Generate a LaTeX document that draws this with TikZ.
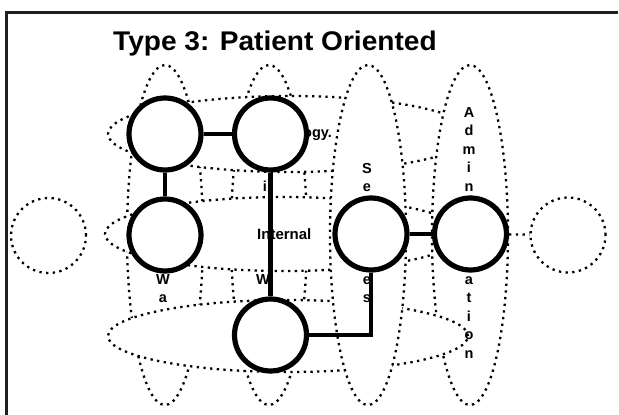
\documentclass[tikz,border=0pt]{standalone}
\usepackage{fontspec}
\setmainfont{Liberation Sans}
\pgfdeclarelayer{bg}
\pgfsetlayers{bg,main}
\begin{document}
\begin{tikzpicture}[x=1pt,y=-1pt,
  dotln/.style={line width=2.3pt,dash pattern=on 2.3pt off 4.4pt},
  region/.style={dotln,fill=white},
  solidc/.style={circle,draw,line width=5.2pt,fill=white,minimum size=72pt,inner sep=0pt},
  dotc/.style={circle,draw,dotln,minimum size=75pt,inner sep=0pt},
  thinlink/.style={line width=3.6pt},
  thicklink/.style={line width=4.8pt},
  lbl/.style={font=\bfseries\fontsize{14.5}{14.5}\selectfont,inner sep=0pt,anchor=base},
  frameln/.style={line width=3pt,draw=black!88},
  ]
\fill[white] (0,0) rectangle (619,415);
% frame (only its top and left sides lie inside the picture)
\draw[frameln] (6.5,415) -- (6.5,12.5) -- (618,12.5);
% vertical regions (left two, under the horizontal ones)
\draw[dotln] (165,235) ellipse [x radius=38pt, y radius=170pt];
\draw[dotln] (269,235) ellipse [x radius=38pt, y radius=170pt];
% horizontal regions and the right vertical regions
\draw[region] (290,134) ellipse [x radius=182pt, y radius=38pt];
\draw[region] (284,234) ellipse [x radius=179pt, y radius=37pt];
\draw[region] (470,235) ellipse [x radius=38pt, y radius=170pt];
\draw[region] (288,336) ellipse [x radius=180pt, y radius=36pt];
\draw[region] (368,235) ellipse [x radius=38pt, y radius=170pt];
% outer dotted circles
\node[dotc] (d1) at (48.5,235.5) {};
\node[dotc] (d2) at (568,235) {};
% title
\node[font=\bfseries\fontsize{27}{27}\selectfont, anchor=base west, inner sep=0pt, xscale=1.04] (title) at (113,50) {Type 3: Patient Oriented};
% labels
\foreach \ch [count=\i from 0] in {A,d,m,i,n}
  \node[lbl] (adm\i) at (469,{117+18.5*\i}) {\ch};
\foreach \ch [count=\i from 0] in {a,t,i,o,n}
  \node[lbl] (atn\i) at (469,{284+18.5*\i}) {\ch};
\node[lbl] (se1) at (367,173) {S};
\node[lbl] (se2) at (367,191.5) {e};
\node[lbl] (se3) at (367,284) {e};
\node[lbl] (se4) at (367,302.5) {s};
\node[lbl] (wa1) at (163,284) {W};
\node[lbl] (wa2) at (163,302.5) {a};
\node[lbl] (ci1) at (265,191.5) {i};
\node[lbl] (cw1) at (263,284) {W};
\node[lbl,anchor=base west,font=\bfseries\fontsize{15}{15}\selectfont] (internal) at (257,239) {Internal};
\node[lbl,anchor=base west] (ogy) at (303,137) {ogy.};
% solid circles
\node[solidc] (c1) at (165,134) {};
\node[solidc] (c2) at (270.5,134) {};
\node[solidc] (c3) at (165,235) {};
\node[solidc] (c4) at (270.5,335) {};
\node[solidc] (c5) at (371,234) {};
\node[solidc] (c6) at (470.5,234) {};
% links
\draw[thinlink] (c1) -- (c2);
\draw[thinlink] (c1) -- (c3);
\draw[thicklink] (c2) -- (c4);
\draw[thicklink] (c4) -| (c5);
\draw[thinlink] (c5) -- (c6);
\draw[dotln] (c6) -- (d2);
\begin{pgfonlayer}{bg}
\draw[dotln] (d1) -- (c3);
\end{pgfonlayer}
\pgfresetboundingbox
\useasboundingbox (0,0) rectangle (619,415);
\end{tikzpicture}
\end{document}
